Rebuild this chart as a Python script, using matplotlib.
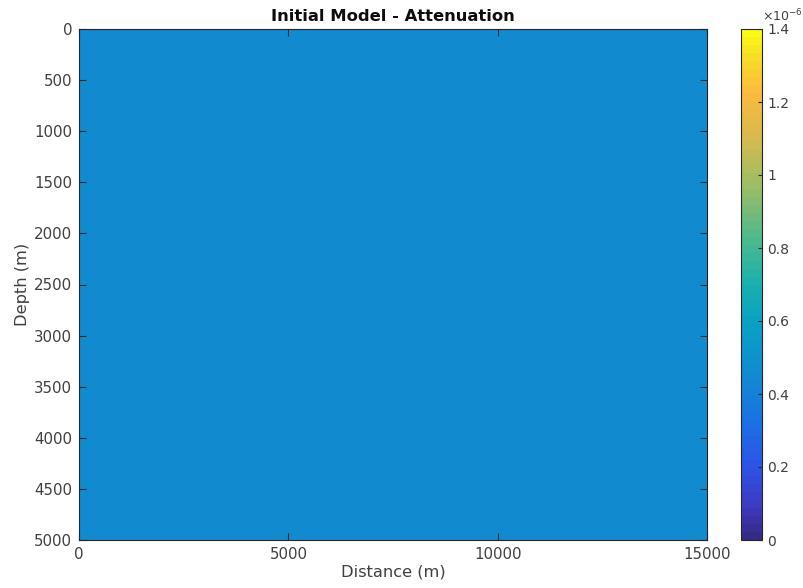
import numpy as np
import matplotlib
matplotlib.use("Agg")
import matplotlib.pyplot as plt
from matplotlib.colors import LinearSegmentedColormap

# Data
distance_extent = [0, 15000]
depth_extent = [0, 5000]
attenuation_value = 0.45e-6
clim = [0, 1.4e-6]
x_ticks = [0, 5000, 10000, 15000]
y_ticks = list(range(0, 5001, 500))
cb_ticks = [0, 0.2, 0.4, 0.6, 0.8, 1.0, 1.2, 1.4]
model = np.full((50, 150), attenuation_value)

parula_anchors = [
    (0.000, (0.2081, 0.1663, 0.5292)),
    (0.060, (0.2400, 0.2300, 0.7600)),
    (0.140, (0.1800, 0.3300, 0.9000)),
    (0.230, (0.1000, 0.4500, 0.8900)),
    (0.321, (0.0670, 0.5450, 0.8160)),
    (0.420, (0.0350, 0.6300, 0.7700)),
    (0.500, (0.1000, 0.6900, 0.6800)),
    (0.600, (0.3200, 0.7300, 0.5400)),
    (0.700, (0.6200, 0.7400, 0.4000)),
    (0.800, (0.8600, 0.7300, 0.3000)),
    (0.880, (0.9800, 0.7300, 0.2400)),
    (0.950, (0.9700, 0.8600, 0.1500)),
    (1.000, (0.9769, 0.9839, 0.0805)),
]
parula = LinearSegmentedColormap.from_list("parula", parula_anchors, N=64)

dark = (0.25, 0.25, 0.25)
spine_c = (0.15, 0.15, 0.15)
plt.rcParams['font.family'] = ['DejaVu Sans']

fig = plt.figure(figsize=(8.04, 5.88), dpi=100)
ax = fig.add_axes([79/804, 1-540/588, (707-79)/804, (540-29)/588])
im = ax.imshow(model, cmap=parula, vmin=clim[0], vmax=clim[1], aspect='auto',
               extent=[distance_extent[0], distance_extent[1], depth_extent[1], depth_extent[0]],
               interpolation='nearest')
ax.set_xlim(distance_extent)
ax.set_ylim(depth_extent[1], depth_extent[0])
ax.set_xticks(x_ticks)
ax.set_yticks(y_ticks)
ax.tick_params(direction='in', top=True, right=True, length=5, color=spine_c,
               labelcolor=dark, labelsize=10.8, pad=5)
for s in ax.spines.values():
    s.set_color(spine_c)
    s.set_linewidth(0.8)
ax.set_xlabel("Distance (m)", color=dark, fontsize=11.7, labelpad=2)
ax.set_ylabel("Depth (m)", color=dark, fontsize=11.7, labelpad=3)
ax.set_title("Initial Model - Attenuation", fontweight='bold', fontsize=11.8, pad=6,
             color=(0.05, 0.05, 0.05))

cax = fig.add_axes([741/804, 1-540/588, 21/804, (540-29)/588])
cb = fig.colorbar(im, cax=cax)
cb.set_ticks([t*1e-6 for t in cb_ticks])
cb.set_ticklabels([f"{t:g}" for t in cb_ticks])
cb.ax.tick_params(direction='in', length=3, color=spine_c, labelcolor=dark,
                  labelsize=10, pad=4)
cb.outline.set_edgecolor(spine_c)
cb.outline.set_linewidth(0.8)
cax.text(1.0, 1.016, r"$\times10^{-6}$", transform=cax.transAxes, ha='left', va='baseline',
         fontsize=9, color=dark)

fig.savefig("out.png", dpi=100)
